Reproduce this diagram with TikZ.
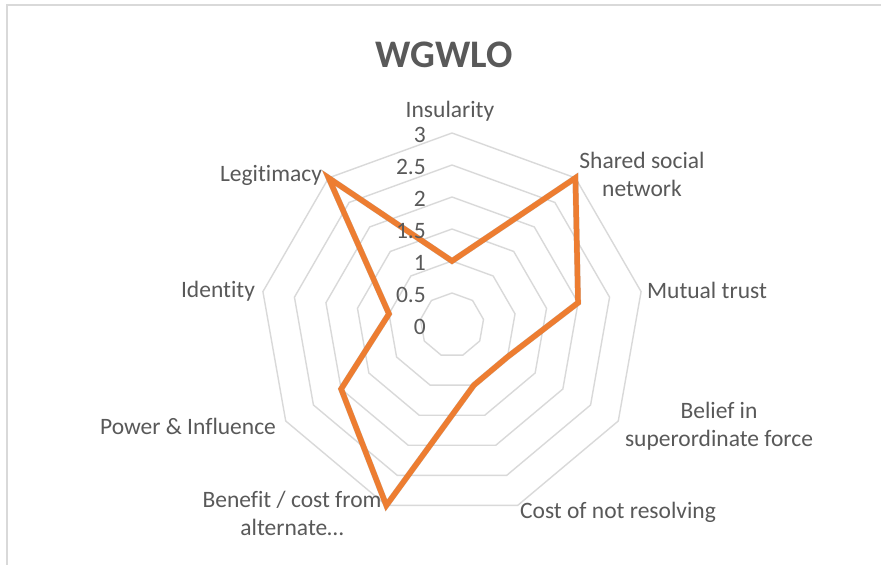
\documentclass[tikz,border=0pt]{standalone}
\usepackage{fontspec}
\setmainfont{Carlito}[Ligatures={NoCommon}]
\definecolor{txtgray}{RGB}{89,89,89}
\definecolor{ringgray}{RGB}{217,217,217}
\definecolor{seriesorange}{RGB}{237,125,49}
\tikzset{
  ring/.style={draw=ringgray, line width=1.4pt},
  series/.style={draw=seriesorange, line width=5.5pt},
  axislabel/.style={text=txtgray, font=\fontsize{23.5}{28}\selectfont, align=center, inner sep=0pt},
  ticklabel/.style={text=txtgray, font=\fontsize{23.5}{28}\selectfont, anchor=east, inner sep=0pt}
}

\begin{document}
\begin{tikzpicture}[x=1pt,y=1pt]
    \useasboundingbox (0,0) rectangle (881,565);
    \fill[white] (0,0) rectangle (881,565);
    \draw[ringgray, line width=1.5pt] (7,0) -- (7,560) -- (881,560);
    \node[text=txtgray, font=\bfseries\fontsize{39}{46}\selectfont, anchor=base] (T) at (444,497) {WGWLO};
    \begin{scope}[shift={(452,240)}]
      \coordinate (O) at (0,0);
      % rings 0.5 .. 3
      \foreach \r in {1,...,6}
        \draw[ring] (90:\r*32) \foreach \a in {1,...,8} { -- (90-40*\a:\r*32) } -- cycle;
      % data points
      \coordinate (p0) at (90:64);
      \coordinate (p1) at (50:192);
      \coordinate (p2) at (10:128);
      \coordinate (p3) at (-30:64);
      \coordinate (p4) at (-70:64);
      \coordinate (p5) at (-110:192);
      \coordinate (p6) at (-150:128);
      \coordinate (p7) at (170:64);
      \coordinate (p8) at (130:192);
      \draw[black, opacity=0.18, line width=6pt, shift={(1.5,-2)}] (p0) -- (p1) -- (p2) -- (p3) -- (p4) -- (p5) -- (p6) -- (p7) -- (p8) -- cycle;
      \draw[series] (p0) -- (p1) -- (p2) -- (p3) -- (p4) -- (p5) -- (p6) -- (p7) -- (p8) -- cycle;
    \end{scope}
    % value axis
    \node[ticklabel] (t0) at (426,238) {0};
    \node[ticklabel] (t1) at (426,270) {0.5};
    \node[ticklabel] (t2) at (426,302) {1};
    \node[ticklabel] (t3) at (426,334) {1.5};
    \node[ticklabel] (t4) at (426,366) {2};
    \node[ticklabel] (t5) at (426,398) {2.5};
    \node[ticklabel] (t6) at (426,430) {3};
    % categories
    \node[axislabel] (A) at (450,454) {Insularity};
    \node[axislabel] (B) at (642,391) {Shared social\\network};
    \node[axislabel] (C) at (707,275) {Mutual trust};
    \node[axislabel] (D) at (719,139) {Belief in\\superordinate force};
    \node[axislabel] (E) at (618,53) {Cost of not resolving};
    \node[axislabel] (F) at (292,52) {Benefit / cost from\\alternate\dots};
    \node[axislabel] (G) at (188,139) {Power \& Influence};
    \node[axislabel] (H) at (218,274) {Identity};
    \node[axislabel] (I) at (271,390) {Legitimacy};
  \end{tikzpicture}
\end{document}
